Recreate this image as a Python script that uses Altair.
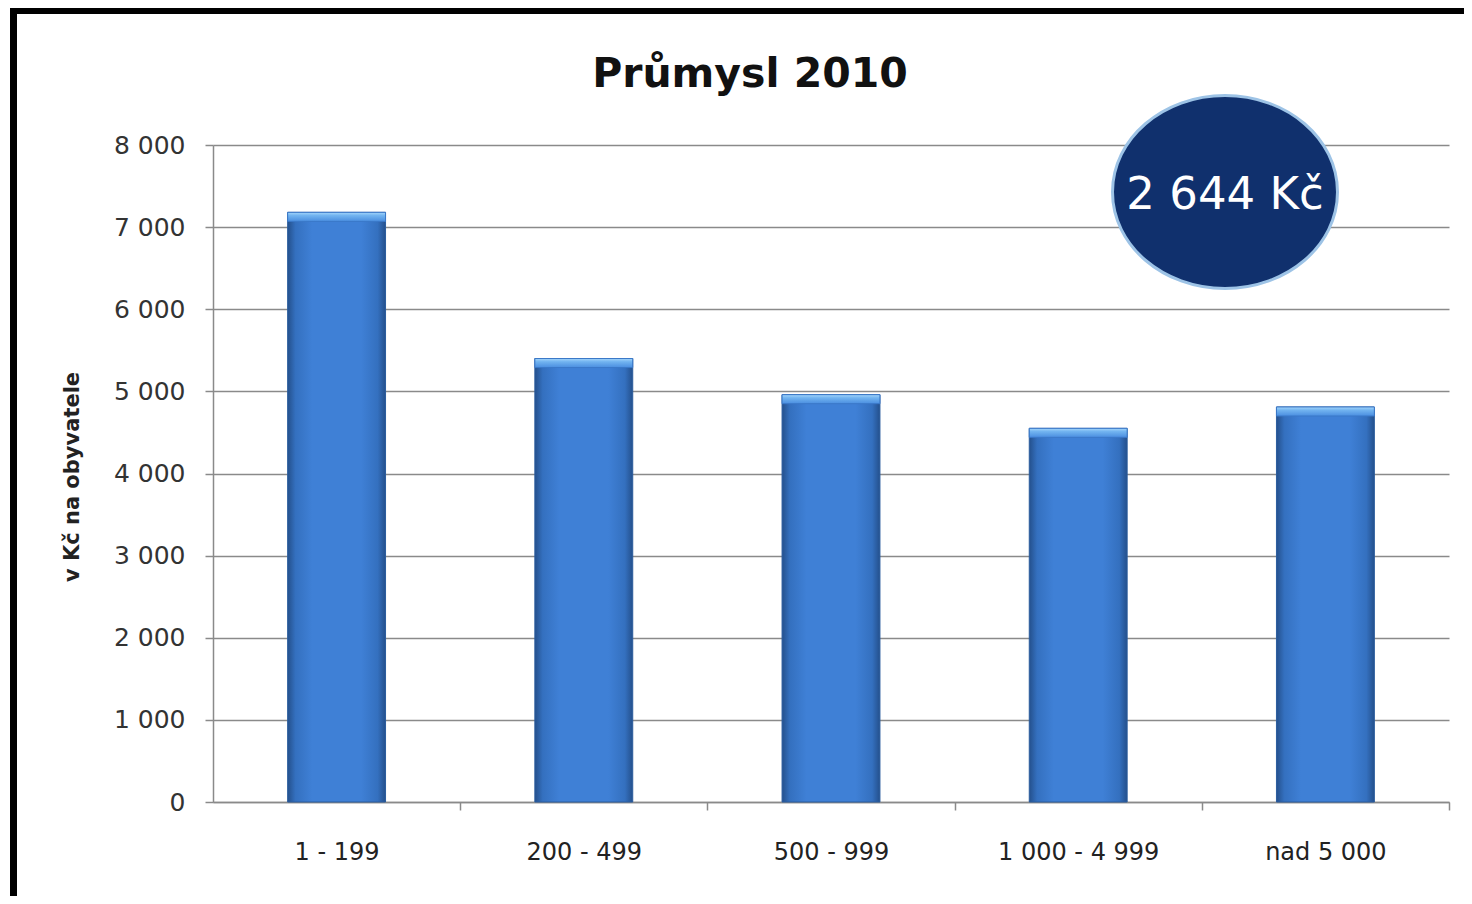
import altair as alt
import pandas as pd

# ---- data ----
categories = ["1 - 199", "200 - 499", "500 - 999", "1 000 - 4 999", "nad 5 000"]
values = [7180, 5400, 4960, 4550, 4810]
y_ticks = [0, 1000, 2000, 3000, 4000, 5000, 6000, 7000, 8000]
title_text = "Průmysl 2010"
y_title = "v Kč na obyvatele"
badge_text = ["2 644 Kč"]

df = pd.DataFrame({"kategorie": categories, "hodnota": values})
badge_df = pd.DataFrame({"t": badge_text})

PW, PH = 1236, 657
STEP = PW / len(categories)
FONT = "DejaVu Sans"
GRID = "#8a8a8a"

bar_fill = alt.Gradient(
    gradient="linear", x1=0, x2=1, y1=0, y2=0,
    stops=[
        alt.GradientStop(offset=0, color="#24508c"),
        alt.GradientStop(offset=0.08, color="#3470bf"),
        alt.GradientStop(offset=0.25, color="#3f80d6"),
        alt.GradientStop(offset=0.75, color="#3f80d6"),
        alt.GradientStop(offset=0.92, color="#3470bf"),
        alt.GradientStop(offset=1, color="#24508c"),
    ],
)
bevel_fill = alt.Gradient(
    gradient="linear", x1=0, x2=0, y1=0, y2=1,
    stops=[
        alt.GradientStop(offset=0, color="#a5d6fb"),
        alt.GradientStop(offset=0.35, color="#72b4f0"),
        alt.GradientStop(offset=1, color="#4a8ee0"),
    ],
)

x_axis = alt.Axis(
    title=None, labelAngle=0, tickOffset=STEP / 2, labelOffset=-STEP / 2,
    tickSize=8, tickColor=GRID, tickWidth=1.5, domainColor=GRID, domainWidth=1.5,
    labelFont=FONT, labelFontSize=24, labelColor="#222",
    labelPadding=30, grid=False,
)
y_axis = alt.Axis(
    values=y_ticks,
    labelExpr="replace(format(datum.value, ',d'), ',', ' ')",
    title=y_title, titleFont=FONT, titleFontSize=21, titleFontWeight="bold",
    titleColor="#222", titleAngle=270, titleX=-141, titleY=PH / 2 + 3,
    titleBaseline="middle", titleAlign="center",
    labelFont=FONT, labelFontSize=25, labelColor="#333", labelPadding=20,
    tickSize=8, tickColor=GRID, tickWidth=1.5,
    domainColor=GRID, domainWidth=1.5,
    grid=True, gridColor=GRID, gridWidth=1.5,
)
x_scale = alt.Scale(paddingInner=0.604, paddingOuter=0.302)
y_scale = alt.Scale(domain=[0, 8000], nice=False)

x_enc = alt.X("kategorie:N", sort=categories, scale=x_scale, axis=x_axis)
y_enc = alt.Y("hodnota:Q", scale=y_scale, axis=y_axis)

bars = alt.Chart(df).mark_bar(fill=bar_fill, stroke="#2a5c9e", strokeWidth=1).encode(
    x=x_enc, y=y_enc,
)

bevel = alt.Chart(df).transform_calculate(
    spodek="datum.hodnota - 110"
).mark_bar(fill=bevel_fill, stroke="#3a78c8", strokeWidth=1).encode(
    x=x_enc, y=y_enc, y2="spodek:Q",
)

ellipse_path = "M-1,0A1,0.858 0 1,0 1,0A1,0.858 0 1,0 -1,0Z"
badge = alt.Chart(badge_df).mark_point(
    shape=ellipse_path, size=225 * 225, filled=True, fill="#10306d",
    fillOpacity=1, stroke="#9dc3e6", strokeWidth=3, opacity=1,
).encode(x=alt.value(1012), y=alt.value(47))

badge_label = alt.Chart(badge_df).mark_text(
    font=FONT, fontSize=45, color="white", align="center", baseline="middle",
).encode(text="t:N", x=alt.value(1012), y=alt.value(50))

frame_top = alt.Chart(badge_df).mark_rule(color="black", strokeWidth=7).encode(
    x=alt.value(-203), x2=alt.value(1260), y=alt.value(-134.5)
)
frame_left = alt.Chart(badge_df).mark_rule(color="black", strokeWidth=7).encode(
    x=alt.value(-199.5), y=alt.value(-137), y2=alt.value(760)
)

chart = alt.layer(frame_top, frame_left, bars, bevel, badge, badge_label).properties(
    width=PW, height=PH,
    title=alt.TitleParams(
        title_text, font=FONT, fontSize=41, fontWeight="bold", color="#111",
        anchor="middle", dx=-81, offset=34, dy=125,
    ),
    padding={"left": 205, "top": 137, "right": 15, "bottom": 94},
    autosize=alt.AutoSizeParams(type="none"),
    background="white",
).configure_view(stroke=None)

chart.save("out.html", embed_options={"renderer": "svg", "actions": False})
